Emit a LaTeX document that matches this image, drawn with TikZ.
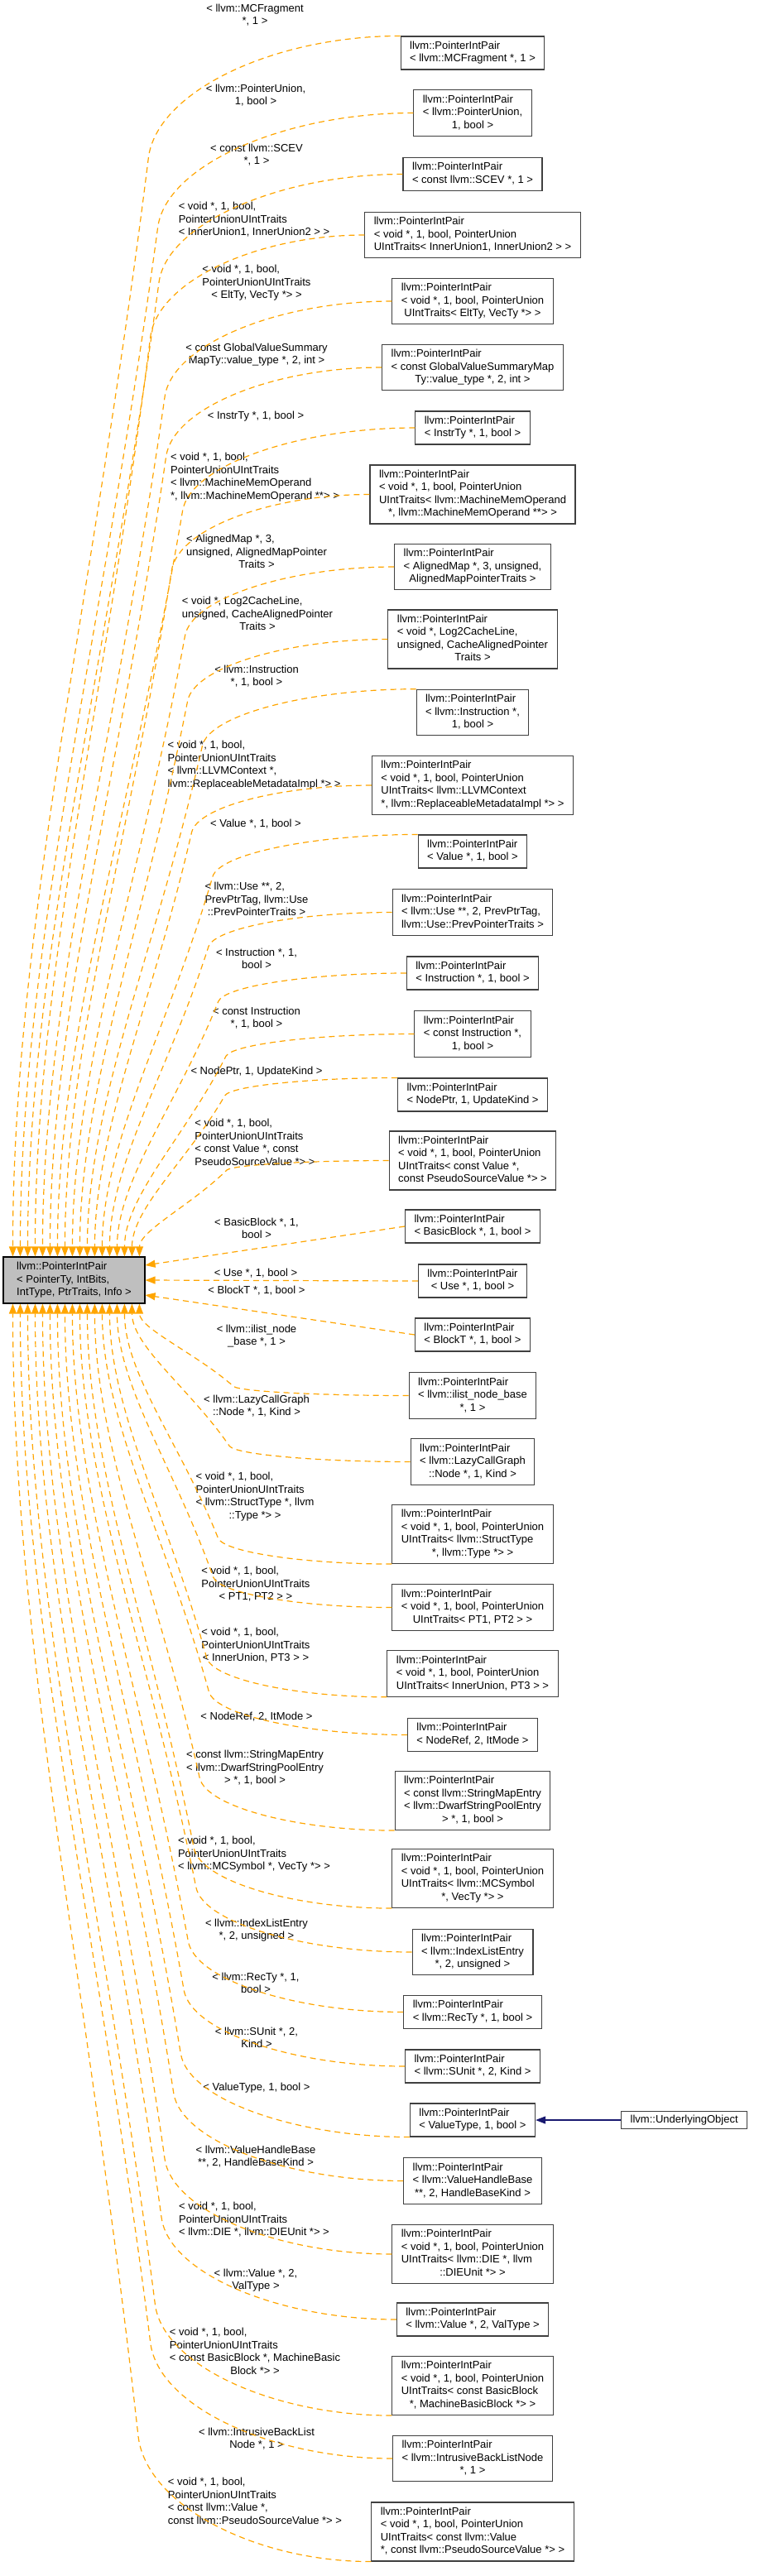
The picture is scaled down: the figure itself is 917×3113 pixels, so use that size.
\documentclass[tikz,border=0pt]{standalone}
\usepackage{fontspec}
\setmainfont{Liberation Sans}
\usetikzlibrary{arrows.meta, positioning, calc}

\definecolor{dxorange}{HTML}{FFA500}
\definecolor{dxnavy}{HTML}{191970}
\definecolor{dxgrey}{HTML}{BFBFBF}
\definecolor{dxframe}{HTML}{404040}

% doxygen style text: left lines, last line centred
\newcommand{\dlab}[2]{\begin{tabular}{@{}l@{}}#1\\\multicolumn{1}{@{}c@{}}{#2}\end{tabular}}

\begin{document}
\begin{tikzpicture}[x=1pt, y=-1pt, >={Triangle[length=12pt, width=9pt]}]
    \tikzset{
        cls/.style={rectangle, draw=dxframe, fill=white, line width=1.1pt, inner xsep=11pt, inner ysep=4.5pt, font=\fontsize{13}{15.5}\selectfont},
        maincls/.style={cls, draw=black, fill=dxgrey, minimum width=171pt, minimum height=56pt},
        elabel/.style={inner sep=0pt, font=\fontsize{13}{15.5}\selectfont},
        inst/.style={draw=dxorange, line width=1.2pt, dash pattern=on 7pt off 5pt, ->},
        fan/.style={to path={let \p1=(\tikztostart), \p2=(\tikztotarget),
            \p3=({0.65*\x2+0.35*\x1},{0.9*\y1+0.1*\y2}) in
            .. controls ({0.5*\x1+0.5*\x3},\y1) and ({1.061*\x3-0.061*\x2},{1.061*\y3-0.061*\y2}) .. (\p3)
            .. controls ({0.6*\x3+0.4*\x2},{0.6*\y3+0.4*\y2}) and (\x2,{0.3*\y3+0.7*\y2}) .. (\tikztotarget)}},
        inherit/.style={draw=dxnavy, line width=1.2pt, ->}
    }
    \useasboundingbox (0,0) rectangle (917,3113);

    % template class
    \node (main) [maincls] at (89.5,1547) {\dlab{llvm::PointerIntPair\\< PointerTy, IntBits,}{IntType, PtrTraits, Info >}};

    % instantiations
    \node (b1) [cls] at (571,64) {\dlab{llvm::PointerIntPair}{< llvm::MCFragment *, 1 >}};
    \node (b2) [cls] at (571,136.5) {\dlab{llvm::PointerIntPair\\< llvm::PointerUnion,}{1, bool >}};
    \node (b3) [cls] at (571,210.5) {\dlab{llvm::PointerIntPair}{< const llvm::SCEV *, 1 >}};
    \node (b4) [cls] at (571,284) {\dlab{llvm::PointerIntPair\\< void *, 1, bool, PointerUnion}{UIntTraits< InnerUnion1, InnerUnion2 > >}};
    \node (b5) [cls] at (571,364) {\dlab{llvm::PointerIntPair\\< void *, 1, bool, PointerUnion}{UIntTraits< EltTy, VecTy *> >}};
    \node (b6) [cls] at (571,444) {\dlab{llvm::PointerIntPair\\< const GlobalValueSummaryMap}{Ty::value\_type *, 2, int >}};
    \node (b7) [cls] at (571,517) {\dlab{llvm::PointerIntPair}{< InstrTy *, 1, bool >}};
    \node (b8) [cls] at (571,597.5) {\dlab{llvm::PointerIntPair\\< void *, 1, bool, PointerUnion\\UIntTraits< llvm::MachineMemOperand}{*, llvm::MachineMemOperand **> >}};
    \node (b9) [cls] at (571,685) {\dlab{llvm::PointerIntPair\\< AlignedMap *, 3, unsigned,}{AlignedMapPointerTraits >}};
    \node (b10) [cls] at (571,772.5) {\dlab{llvm::PointerIntPair\\< void *, Log2CacheLine,\\unsigned, CacheAlignedPointer}{Traits >}};
    \node (b11) [cls] at (571,861) {\dlab{llvm::PointerIntPair\\< llvm::Instruction *,}{1, bool >}};
    \node (b12) [cls] at (571,949) {\dlab{llvm::PointerIntPair\\< void *, 1, bool, PointerUnion\\UIntTraits< llvm::LLVMContext}{*, llvm::ReplaceableMetadataImpl *> >}};
    \node (b13) [cls] at (571,1029) {\dlab{llvm::PointerIntPair}{< Value *, 1, bool >}};
    \node (b14) [cls] at (571,1102.5) {\dlab{llvm::PointerIntPair\\< llvm::Use **, 2, PrevPtrTag,}{llvm::Use::PrevPointerTraits >}};
    \node (b15) [cls] at (571,1176) {\dlab{llvm::PointerIntPair}{< Instruction *, 1, bool >}};
    \node (b16) [cls] at (571,1249.5) {\dlab{llvm::PointerIntPair\\< const Instruction *,}{1, bool >}};
    \node (b17) [cls] at (571,1323) {\dlab{llvm::PointerIntPair}{< NodePtr, 1, UpdateKind >}};
    \node (b18) [cls] at (571,1402.5) {\dlab{llvm::PointerIntPair\\< void *, 1, bool, PointerUnion\\UIntTraits< const Value *,}{const PseudoSourceValue *> >}};
    \node (b19) [cls] at (571,1482) {\dlab{llvm::PointerIntPair}{< BasicBlock *, 1, bool >}};
    \node (b20) [cls] at (571,1548) {\dlab{llvm::PointerIntPair}{< Use *, 1, bool >}};
    \node (b21) [cls] at (571,1613) {\dlab{llvm::PointerIntPair}{< BlockT *, 1, bool >}};
    \node (b22) [cls] at (571,1686.5) {\dlab{llvm::PointerIntPair\\< llvm::ilist\_node\_base}{*, 1 >}};
    \node (b23) [cls] at (571,1766.5) {\dlab{llvm::PointerIntPair\\< llvm::LazyCallGraph}{::Node *, 1, Kind >}};
    \node (b24) [cls] at (571,1854) {\dlab{llvm::PointerIntPair\\< void *, 1, bool, PointerUnion\\UIntTraits< llvm::StructType}{*, llvm::Type *> >}};
    \node (b25) [cls] at (571,1942.5) {\dlab{llvm::PointerIntPair\\< void *, 1, bool, PointerUnion}{UIntTraits< PT1, PT2 > >}};
    \node (b26) [cls] at (571,2022.5) {\dlab{llvm::PointerIntPair\\< void *, 1, bool, PointerUnion}{UIntTraits< InnerUnion, PT3 > >}};
    \node (b27) [cls] at (571,2096.5) {\dlab{llvm::PointerIntPair}{< NodeRef, 2, ItMode >}};
    \node (b28) [cls] at (571,2176) {\dlab{llvm::PointerIntPair\\< const llvm::StringMapEntry\\< llvm::DwarfStringPoolEntry}{> *, 1, bool >}};
    \node (b29) [cls] at (571,2270) {\dlab{llvm::PointerIntPair\\< void *, 1, bool, PointerUnion\\UIntTraits< llvm::MCSymbol}{*, VecTy *> >}};
    \node (b30) [cls] at (571,2359) {\dlab{llvm::PointerIntPair\\< llvm::IndexListEntry}{*, 2, unsigned >}};
    \node (b31) [cls] at (571,2431.5) {\dlab{llvm::PointerIntPair}{< llvm::RecTy *, 1, bool >}};
    \node (b32) [cls] at (571,2497) {\dlab{llvm::PointerIntPair}{< llvm::SUnit *, 2, Kind >}};
    \node (b33) [cls] at (571,2562) {\dlab{llvm::PointerIntPair}{< ValueType, 1, bool >}};
    \node (b34) [cls] at (571,2635.5) {\dlab{llvm::PointerIntPair\\< llvm::ValueHandleBase}{**, 2, HandleBaseKind >}};
    \node (b35) [cls] at (571,2724) {\dlab{llvm::PointerIntPair\\< void *, 1, bool, PointerUnion\\UIntTraits< llvm::DIE *, llvm}{::DIEUnit *> >}};
    \node (b36) [cls] at (571,2803) {\dlab{llvm::PointerIntPair}{< llvm::Value *, 2, ValType >}};
    \node (b37) [cls] at (571,2883) {\dlab{llvm::PointerIntPair\\< void *, 1, bool, PointerUnion\\UIntTraits< const BasicBlock}{*, MachineBasicBlock *> >}};
    \node (b38) [cls] at (571,2971) {\dlab{llvm::PointerIntPair\\< llvm::IntrusiveBackListNode}{*, 1 >}};
    \node (b39) [cls] at (571,3059.5) {\dlab{llvm::PointerIntPair\\< void *, 1, bool, PointerUnion\\UIntTraits< const llvm::Value}{*, const llvm::PseudoSourceValue *> >}};

    % derived class
    \node (uo) [cls, right=103pt of b33] {llvm::UnderlyingObject};

    % edge labels
    \node (l1) [elabel] at (308,19) {\dlab{< llvm::MCFragment}{*, 1 >}};
    \node (l2) [elabel] at (309,116) {\dlab{< llvm::PointerUnion,}{1, bool >}};
    \node (l3) [elabel] at (310,188) {\dlab{< const llvm::SCEV}{*, 1 >}};
    \node (l4) [elabel] at (307,266) {\dlab{< void *, 1, bool,\\PointerUnionUIntTraits}{< InnerUnion1, InnerUnion2 > >}};
    \node (l5) [elabel] at (310,342) {\dlab{< void *, 1, bool,\\PointerUnionUIntTraits}{< EltTy, VecTy *> >}};
    \node (l6) [elabel] at (310,429) {\dlab{< const GlobalValueSummary}{MapTy::value\_type *, 2, int >}};
    \node (l7) [elabel] at (309,503) {< InstrTy *, 1, bool >};
    \node (l8) [elabel] at (308,577) {\dlab{< void *, 1, bool,\\PointerUnionUIntTraits\\< llvm::MachineMemOperand}{*, llvm::MachineMemOperand **> >}};
    \node (l9) [elabel] at (310,668) {\dlab{< AlignedMap *, 3,\\unsigned, AlignedMapPointer}{Traits >}};
    \node (l10) [elabel] at (311,743) {\dlab{< void *, Log2CacheLine,\\unsigned, CacheAlignedPointer}{Traits >}};
    \node (l11) [elabel] at (310,818) {\dlab{< llvm::Instruction}{*, 1, bool >}};
    \node (l12) [elabel] at (307,925) {\dlab{< void *, 1, bool,\\PointerUnionUIntTraits\\< llvm::LLVMContext *,}{llvm::ReplaceableMetadataImpl *> >}};
    \node (l13) [elabel] at (309,996) {< Value *, 1, bool >};
    \node (l14) [elabel] at (310,1088) {\dlab{< llvm::Use **, 2,\\PrevPtrTag, llvm::Use}{::PrevPointerTraits >}};
    \node (l15) [elabel] at (310,1160) {\dlab{< Instruction *, 1,}{bool >}};
    \node (l16) [elabel] at (310,1231) {\dlab{< const Instruction}{*, 1, bool >}};
    \node (l17) [elabel] at (310,1295) {< NodePtr, 1, UpdateKind >};
    \node (l18) [elabel] at (308,1382) {\dlab{< void *, 1, bool,\\PointerUnionUIntTraits\\< const Value *, const}{PseudoSourceValue *> >}};
    \node (l19) [elabel] at (310,1486) {\dlab{< BasicBlock *, 1,}{bool >}};
    \node (l20) [elabel] at (309,1539) {< Use *, 1, bool >};
    \node (l21) [elabel] at (310,1560) {< BlockT *, 1, bool >};
    \node (l22) [elabel] at (310,1615) {\dlab{< llvm::ilist\_node}{\_base *, 1 >}};
    \node (l23) [elabel] at (310,1700) {\dlab{< llvm::LazyCallGraph}{::Node *, 1, Kind >}};
    \node (l24) [elabel] at (308,1809) {\dlab{< void *, 1, bool,\\PointerUnionUIntTraits\\< llvm::StructType *, llvm}{::Type *> >}};
    \node (l25) [elabel] at (309,1915) {\dlab{< void *, 1, bool,\\PointerUnionUIntTraits}{< PT1, PT2 > >}};
    \node (l26) [elabel] at (309,1989) {\dlab{< void *, 1, bool,\\PointerUnionUIntTraits}{< InnerUnion, PT3 > >}};
    \node (l27) [elabel] at (310,2075) {< NodeRef, 2, ItMode >};
    \node (l28) [elabel] at (308,2137) {\dlab{< const llvm::StringMapEntry\\< llvm::DwarfStringPoolEntry}{> *, 1, bool >}};
    \node (l29) [elabel] at (307,2241) {\dlab{< void *, 1, bool,\\PointerUnionUIntTraits}{< llvm::MCSymbol *, VecTy *> >}};
    \node (l30) [elabel] at (310,2333) {\dlab{< llvm::IndexListEntry}{*, 2, unsigned >}};
    \node (l31) [elabel] at (309,2398) {\dlab{< llvm::RecTy *, 1,}{bool >}};
    \node (l32) [elabel] at (310,2464) {\dlab{< llvm::SUnit *, 2,}{Kind >}};
    \node (l33) [elabel] at (310,2523) {< ValueType, 1, bool >};
    \node (l34) [elabel] at (309,2607) {\dlab{< llvm::ValueHandleBase}{**, 2, HandleBaseKind >}};
    \node (l35) [elabel] at (307,2683) {\dlab{< void *, 1, bool,\\PointerUnionUIntTraits}{< llvm::DIE *, llvm::DIEUnit *> >}};
    \node (l36) [elabel] at (309,2756) {\dlab{< llvm::Value *, 2,}{ValType >}};
    \node (l37) [elabel] at (308,2843) {\dlab{< void *, 1, bool,\\PointerUnionUIntTraits\\< const BasicBlock *, MachineBasic}{Block *> >}};
    \node (l38) [elabel] at (310,2948) {\dlab{< llvm::IntrusiveBackList}{Node *, 1 >}};
    \node (l39) [elabel] at (308,3024) {\dlab{< void *, 1, bool,\\PointerUnionUIntTraits\\< const llvm::Value *,}{const llvm::PseudoSourceValue *> >}};

    % template instance edges, upper half
    \draw[inst] (b1.north west) to[fan] ($(main.north west)+(12,0)$);
    \draw[inst] (b2.west) to[fan] ($(main.north west)+(21,0)$);
    \draw[inst] (b3.west) to[fan] ($(main.north west)+(30,0)$);
    \draw[inst] (b4.west) to[fan] ($(main.north west)+(39,0)$);
    \draw[inst] (b5.west) to[fan] ($(main.north west)+(48,0)$);
    \draw[inst] (b6.west) to[fan] ($(main.north west)+(57,0)$);
    \draw[inst] (b7.west) to[fan] ($(main.north west)+(66,0)$);
    \draw[inst] (b8.west) to[fan] ($(main.north west)+(75,0)$);
    \draw[inst] (b9.west) to[fan] ($(main.north west)+(84,0)$);
    \draw[inst] (b10.west) to[fan] ($(main.north west)+(93,0)$);
    \draw[inst] (b11.north west) to[fan] ($(main.north west)+(102,0)$);
    \draw[inst] (b12.west) to[fan] ($(main.north west)+(111,0)$);
    \draw[inst] (b13.north west) to[fan] ($(main.north west)+(120,0)$);
    \draw[inst] (b14.west) to[fan] ($(main.north west)+(129,0)$);
    \draw[inst] (b15.west) to[fan] ($(main.north west)+(138,0)$);
    \draw[inst] (b16.west) to[fan] ($(main.north west)+(147,0)$);
    \draw[inst] (b17.north west) to[fan] ($(main.north west)+(156,0)$);
    \draw[inst] (b18.west) to[fan] ($(main.north west)+(165,0)$);

    % middle
    \draw[inst] (b19.west) -- ($(main.east)+(0,-18)$);
    \draw[inst] (b20.west) -- (main.east);
    \draw[inst] (b21.west) -- ($(main.east)+(0,18)$);

    % lower half
    \draw[inst] (b22.west) to[fan] ($(main.south west)+(165,0)$);
    \draw[inst] (b23.west) to[fan] ($(main.south west)+(156,0)$);
    \draw[inst] (b24.south west) to[fan] ($(main.south west)+(147,0)$);
    \draw[inst] (b25.west) to[fan] ($(main.south west)+(138,0)$);
    \draw[inst] (b26.south west) to[fan] ($(main.south west)+(129,0)$);
    \draw[inst] (b27.west) to[fan] ($(main.south west)+(120,0)$);
    \draw[inst] (b28.south west) to[fan] ($(main.south west)+(111,0)$);
    \draw[inst] (b29.south west) to[fan] ($(main.south west)+(102,0)$);
    \draw[inst] (b30.west) to[fan] ($(main.south west)+(93,0)$);
    \draw[inst] (b31.west) to[fan] ($(main.south west)+(84,0)$);
    \draw[inst] (b32.west) to[fan] ($(main.south west)+(75,0)$);
    \draw[inst] (b33.south west) to[fan] ($(main.south west)+(66,0)$);
    \draw[inst] (b34.west) to[fan] ($(main.south west)+(57,0)$);
    \draw[inst] (b35.west) to[fan] ($(main.south west)+(48,0)$);
    \draw[inst] (b36.west) to[fan] ($(main.south west)+(39,0)$);
    \draw[inst] (b37.south west) to[fan] ($(main.south west)+(30,0)$);
    \draw[inst] (b38.west) to[fan] ($(main.south west)+(21,0)$);
    \draw[inst] (b39.south west) to[fan] ($(main.south west)+(12,0)$);

    % inheritance
    \draw[inherit] (uo.west) -- (b33.east);
\end{tikzpicture}
\end{document}
